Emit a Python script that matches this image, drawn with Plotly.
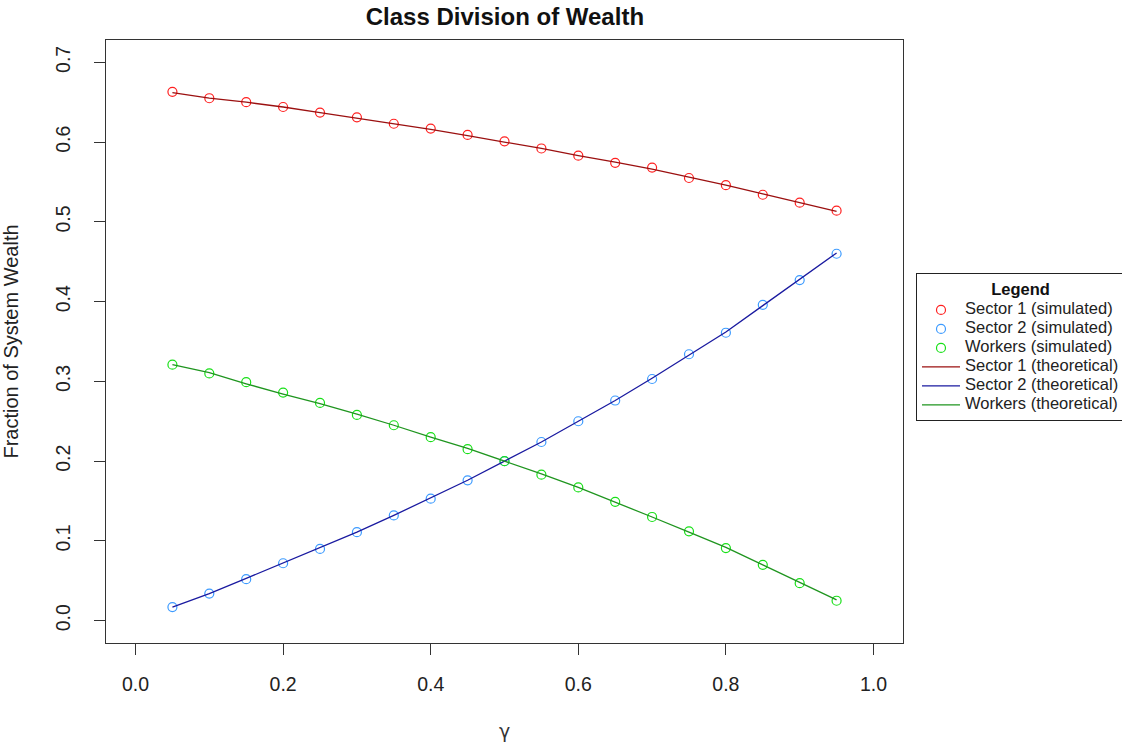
import plotly.graph_objects as go

# Wage-share parameter gamma
gamma = [0.05, 0.10, 0.15, 0.20, 0.25, 0.30, 0.35, 0.40, 0.45, 0.50,
         0.55, 0.60, 0.65, 0.70, 0.75, 0.80, 0.85, 0.90, 0.95]

# Simulated wealth shares
sector1_sim = [0.663, 0.655, 0.650, 0.644, 0.637, 0.631, 0.623, 0.617, 0.609, 0.601,
               0.592, 0.583, 0.574, 0.568, 0.555, 0.546, 0.534, 0.524, 0.514]
sector2_sim = [0.017, 0.034, 0.052, 0.072, 0.090, 0.111, 0.132, 0.153, 0.176, 0.200,
               0.224, 0.250, 0.276, 0.303, 0.334, 0.361, 0.396, 0.427, 0.460]
workers_sim = [0.321, 0.310, 0.299, 0.286, 0.273, 0.258, 0.245, 0.230, 0.215, 0.200,
               0.183, 0.167, 0.149, 0.130, 0.112, 0.091, 0.070, 0.047, 0.025]

# Theoretical wealth shares
sector1_theory = [0.662, 0.655, 0.650, 0.644, 0.637, 0.630, 0.623, 0.616, 0.608, 0.600,
                  0.592, 0.583, 0.575, 0.566, 0.556, 0.546, 0.535, 0.524, 0.513]
sector2_theory = [0.017, 0.034, 0.053, 0.072, 0.091, 0.111, 0.132, 0.154, 0.176, 0.200,
                  0.224, 0.250, 0.276, 0.304, 0.333, 0.362, 0.395, 0.428, 0.461]
workers_theory = [0.321, 0.311, 0.297, 0.284, 0.272, 0.259, 0.245, 0.230, 0.216, 0.200,
                  0.184, 0.167, 0.149, 0.130, 0.111, 0.092, 0.070, 0.048, 0.026]

x_ticks = [0.0, 0.2, 0.4, 0.6, 0.8, 1.0]
y_ticks = [0.0, 0.1, 0.2, 0.3, 0.4, 0.5, 0.6, 0.7]

FONT = "Liberation Sans, Arial, sans-serif"
LEGEND_TEXT_PX = 16.5


def legend_label(text):
    # legend rows are packed tightly; the label itself is drawn at full size
    return f'<span style="font-size:{LEGEND_TEXT_PX}px">{text}</span>'


fig = go.Figure()

sim_series = [
    ("Sector 1 (simulated)", sector1_sim, "#ff2020"),
    ("Sector 2 (simulated)", sector2_sim, "#3d9bff"),
    ("Workers (simulated)", workers_sim, "#18e018"),
]
for name, vals, col in sim_series:
    fig.add_trace(go.Scatter(
        x=gamma, y=vals, mode="markers", name=legend_label(name),
        marker=dict(symbol="circle-open", size=9, color=col, line=dict(width=1.2, color=col)),
    ))

theory_series = [
    ("Sector 1 (theoretical)", sector1_theory, "#9b1010"),
    ("Sector 2 (theoretical)", sector2_theory, "#1a1aa0"),
    ("Workers (theoretical)", workers_theory, "#1f951f"),
]
for name, vals, col in theory_series:
    fig.add_trace(go.Scatter(
        x=gamma, y=vals, mode="lines", name=legend_label(name),
        line=dict(color=col, width=1.3),
    ))

axis_common = dict(
    showgrid=False, zeroline=False,
    showline=True, mirror=True, linecolor="#333333", linewidth=1,
    ticks="outside", ticklen=11, tickwidth=1, tickcolor="#333333",
    tickfont=dict(family=FONT, size=19.5, color="#222222"),
)

fig.update_layout(
    width=1122, height=742,
    margin=dict(l=106, r=219, t=40, b=99, autoexpand=False),
    paper_bgcolor="white", plot_bgcolor="white",
    title=dict(text="<b>Class Division of Wealth</b>", x=0.45, xanchor="center",
               y=0.977, yanchor="middle",
               font=dict(family=FONT, size=24, color="#111111")),
    xaxis=dict(range=[-0.04, 1.04], tickvals=x_ticks, ticktext=[f"{v:.1f}" for v in x_ticks],
               ticklabelstandoff=13,
               title=dict(text="γ", font=dict(family="DejaVu Sans, sans-serif", size=19, color="#333333"),
                          standoff=30),
               **axis_common),
    yaxis=dict(range=[-0.028, 0.728], tickvals=y_ticks, ticktext=[f"{v:.1f}" for v in y_ticks],
               tickangle=-90, ticklabelstandoff=16,
               title=dict(text="Fraction of System Wealth",
                          font=dict(family=FONT, size=20, color="#222222"), standoff=28),
               **axis_common),
    legend=dict(
        x=1.0163, y=0.6136, xanchor="left", yanchor="top",
        bgcolor="white", bordercolor="#222222", borderwidth=1,
        font=dict(family=FONT, size=9.5, color="#222222"),
        title=dict(text="<b>Legend</b>", side="top center",
                   font=dict(family=FONT, size=16.5, color="#111111")),
        itemwidth=38, tracegroupgap=0,
    ),
    showlegend=True,
)

fig.write_html("out.html")
